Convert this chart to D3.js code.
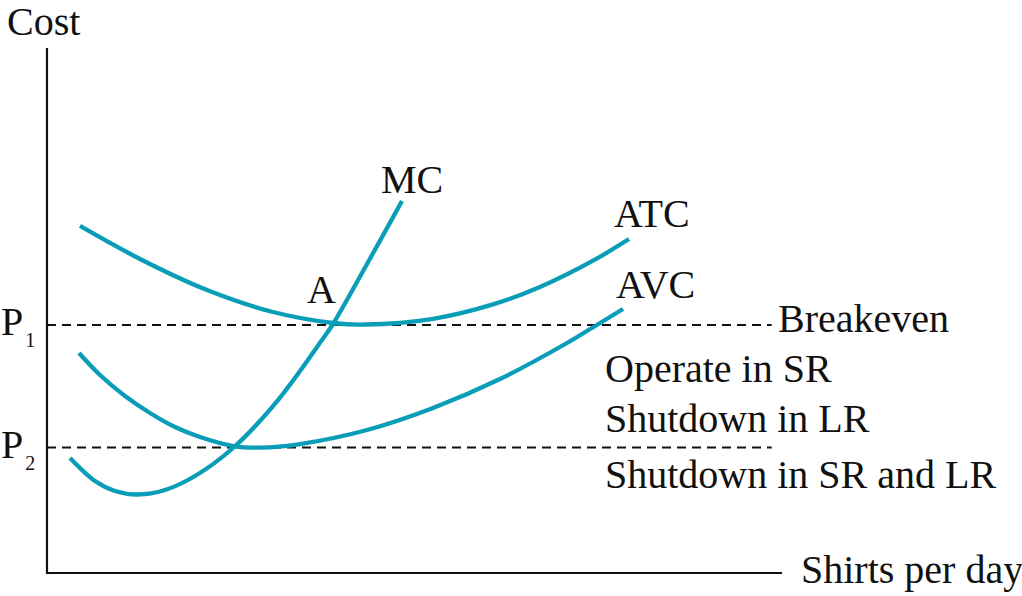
<!DOCTYPE html>
<html>
<head>
<meta charset="utf-8">
<script src="https://cdn.jsdelivr.net/npm/d3@7"></script>
<style>
  html, body { margin: 0; padding: 0; background: #fff; }
  svg text { font-family: "Liberation Serif", "DejaVu Serif", serif; fill: #111; }
</style>
</head>
<body>
<svg id="chart" width="1022" height="596"></svg>
<script>
// ---- Data (abstract units: quantity 0..100, cost 0..100) ----
const priceLevels = [
  { name: "P", sub: "1", value: 47.24 },
  { name: "P", sub: "2", value: 23.90 }
];
const mcQ  = [3.13, 6.53, 9.25, 12.38, 16.05, 20.14, 25.31, 31.43, 37.41, 38.91, 43.54, 48.30];
const mcC  = [21.90, 17.52, 15.62, 14.95, 15.81, 18.48, 23.81, 32.95, 44.38, 47.43, 58.86, 70.86];
const atcQ = [4.49, 12.65, 21.77, 30.75, 38.91, 43.27, 52.52, 60.68, 67.07, 74.29, 79.18];
const atcC = [66.10, 59.81, 53.90, 49.71, 47.62, 47.33, 48.42, 51.16, 54.48, 59.49, 63.62];
const avcQ = [4.35, 7.21, 10.61, 14.01, 17.41, 20.82, 25.31, 28.98, 34.42, 43.54, 52.52, 61.63, 70.75, 75.24, 78.37];
const avcC = [41.90, 37.71, 33.71, 30.48, 27.81, 25.90, 24.19, 23.90, 24.57, 27.24, 31.43, 36.95, 43.81, 47.62, 50.29];
const curveNames = ["MC", "ATC", "AVC"];
const regionLabels = ["Breakeven", "Operate in SR", "Shutdown in LR", "Shutdown in SR and LR"];
const axisTitles = { y: "Cost", x: "Shirts per day" };

// ---- Layout ----
const svg = d3.select("#chart");
const plotLeft = 47, plotRight = 782, plotTop = 48, plotBottom = 573;
const x = d3.scaleLinear().domain([0, 100]).range([plotLeft, plotRight]);
const y = d3.scaleLinear().domain([0, 100]).range([plotBottom, plotTop]);
const teal = "#0a9db8";
const fontSize = 40;

// dashed price lines
const dashEnd = 98.6;
priceLevels.forEach(p => {
  svg.append("line")
    .attr("x1", x(0)).attr("x2", x(dashEnd))
    .attr("y1", y(p.value)).attr("y2", y(p.value))
    .attr("stroke", "#111").attr("stroke-width", 2)
    .attr("stroke-dasharray", "9,6");
  const t = svg.append("text")
    .attr("x", 1).attr("y", y(p.value) + 10)
    .attr("font-size", fontSize);
  t.append("tspan").text(p.name);
  t.append("tspan").attr("font-size", 20).attr("dx", 2).attr("dy", 12).text(p.sub);
});

// axes (no ticks)
svg.append("path")
  .attr("d", `M${x(0)},${plotTop} L${x(0)},${y(0)} L${plotRight},${y(0)}`)
  .attr("fill", "none").attr("stroke", "#111").attr("stroke-width", 2.2);

// curves
const line = d3.line()
  .x(d => x(d[0])).y(d => y(d[1]))
  .curve(d3.curveCatmullRom.alpha(0.5));
const series = [
  [mcQ, mcC], [atcQ, atcC], [avcQ, avcC]
];
series.forEach(([qs, cs]) => {
  svg.append("path")
    .datum(qs.map((q, i) => [q, cs[i]]))
    .attr("d", line)
    .attr("fill", "none")
    .attr("stroke", teal)
    .attr("stroke-width", 4.3)
    .attr("stroke-linecap", "butt");
});

// curve labels
const curveLabelPos = [
  { x: 381, y: 193 },
  { x: 614, y: 227 },
  { x: 616, y: 298 }
];
curveNames.forEach((n, i) => {
  svg.append("text").attr("x", curveLabelPos[i].x).attr("y", curveLabelPos[i].y)
    .attr("font-size", fontSize).text(n);
});
svg.append("text").attr("x", 307).attr("y", 303).attr("font-size", fontSize).text("A");

// region labels
const regionPos = [
  { x: 778, y: 332 },
  { x: 605, y: 382 },
  { x: 605, y: 432 },
  { x: 605, y: 488 }
];
regionLabels.forEach((t, i) => {
  svg.append("text").attr("x", regionPos[i].x).attr("y", regionPos[i].y)
    .attr("font-size", fontSize).text(t);
});

// axis titles
svg.append("text").attr("x", 7).attr("y", 35).attr("font-size", fontSize).text(axisTitles.y);
svg.append("text").attr("x", 801).attr("y", 583).attr("font-size", fontSize).text(axisTitles.x);
</script>
</body>
</html>
